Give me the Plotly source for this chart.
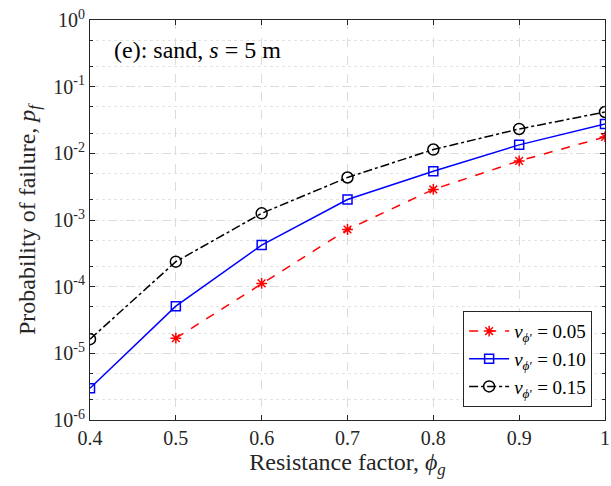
import plotly.graph_objects as go

phi_g = [0.4, 0.5, 0.6, 0.7, 0.8, 0.9, 1.0]
pf_005 = [None, 1.69e-5, 1.12e-4, 7.2e-4, 2.87e-3, 7.7e-3, 1.76e-2]
pf_010 = [3.0e-6, 5.1e-5, 4.2e-4, 2.03e-3, 5.4e-3, 1.34e-2, 2.75e-2]
pf_015 = [1.63e-5, 2.37e-4, 1.26e-3, 4.34e-3, 1.14e-2, 2.32e-2, 4.17e-2]

y_tickvals = [1e-6, 1e-5, 1e-4, 1e-3, 1e-2, 1e-1, 1]
y_ticktext = ["10<sup>-6</sup>", "10<sup>-5</sup>", "10<sup>-4</sup>", "10<sup>-3</sup>",
              "10<sup>-2</sup>", "10<sup>-1</sup>", "10<sup>0</sup>"]
x_tickvals = [0.4, 0.5, 0.6, 0.7, 0.8, 0.9, 1.0]
x_ticktext = ["0.4", "0.5", "0.6", "0.7", "0.8", "0.9", "1"]

names = ["<i>ν</i><sub><i>ϕ</i>′</sub> = 0.05",
         "<i>ν</i><sub><i>ϕ</i>′</sub> = 0.10",
         "<i>ν</i><sub><i>ϕ</i>′</sub> = 0.15"]

FONT = "Liberation Serif"

fig = go.Figure()
fig.add_trace(go.Scatter(x=phi_g, y=pf_005, name=names[0], mode="lines+markers",
                         line=dict(color="#ff0000", width=1.5, dash="dash"),
                         marker=dict(symbol="asterisk-open", size=9, color="#ff0000",
                                     line=dict(color="#ff0000", width=1.5))))
fig.add_trace(go.Scatter(x=phi_g, y=pf_010, name=names[1], mode="lines+markers",
                         line=dict(color="#0000ff", width=1.5),
                         marker=dict(symbol="square-open", size=9, color="#0000ff",
                                     line=dict(color="#0000ff", width=1.5))))
fig.add_trace(go.Scatter(x=phi_g, y=pf_015, name=names[2], mode="lines+markers",
                         line=dict(color="#000000", width=1.5, dash="dashdot"),
                         marker=dict(symbol="circle-open", size=11, color="#000000",
                                     line=dict(color="#000000", width=1.5))))

fig.add_annotation(x=0.043, y=0.925, xref="paper", yref="paper", xanchor="left", yanchor="middle",
                   text="(e): sand, <i>s</i> = 5 m", showarrow=False,
                   font=dict(family=FONT, size=24, color="#000"))

fig.update_layout(
    width=611, height=486,
    margin=dict(l=89.5, r=1, t=19.5, b=66),
    paper_bgcolor="white", plot_bgcolor="white",
    font=dict(family=FONT, size=20, color="#262626"),
    showlegend=True,
    legend=dict(x=0.975, y=0.032, xanchor="right", yanchor="bottom",
                bgcolor="white", bordercolor="#262626", borderwidth=1,
                font=dict(family=FONT, size=19, color="#000"),
                tracegroupgap=0, itemwidth=40),
    xaxis=dict(range=[0.4, 1.0], tickvals=x_tickvals, ticktext=x_ticktext,
               showline=True, linecolor="#262626", linewidth=1, mirror="allticks",
               ticks="inside", ticklen=5, tickcolor="#262626",
               showgrid=True, gridcolor="#dcdcdc", griddash="dash", gridwidth=1,
               zeroline=False, ticklabeloverflow="allow",
               title=dict(text="Resistance factor, <i>ϕ</i><sub><i>g</i></sub>",
                          font=dict(family=FONT, size=24, color="#262626"), standoff=2),
               tickfont=dict(family=FONT, size=20, color="#262626")),
    yaxis=dict(type="log", range=[-6, 0], tickvals=y_tickvals, ticktext=y_ticktext,
               showline=True, linecolor="#262626", linewidth=1, mirror="allticks",
               ticks="inside", ticklen=5, tickcolor="#262626",
               showgrid=True, gridcolor="#dcdcdc", griddash="dash", gridwidth=1,
               zeroline=False,
               minor=dict(ticks="inside", ticklen=3, tickcolor="#262626",
                          showgrid=True, gridcolor="#e4e4e4", griddash="dot", gridwidth=1),
               title=dict(text="Probability of failure, <i>p</i><sub><i>f</i></sub>",
                          font=dict(family=FONT, size=24, color="#262626"), standoff=10),
               tickfont=dict(family=FONT, size=20, color="#262626")),
)

fig.write_html("out.html")
